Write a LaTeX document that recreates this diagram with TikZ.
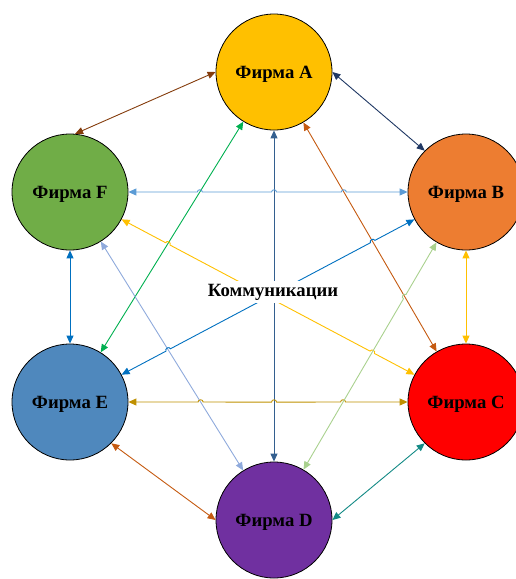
\documentclass[tikz,border=0pt]{standalone}
\usepackage{fontspec}
\setmainfont{Liberation Serif}
\usetikzlibrary{arrows.meta,calc}
\definecolor{cA}{HTML}{FFC000}
\definecolor{cB}{HTML}{ED7D31}
\definecolor{cC}{HTML}{FF0000}
\definecolor{cD}{HTML}{7030A0}
\definecolor{cE}{HTML}{4F88BD}
\definecolor{cF}{HTML}{70AD47}
\definecolor{lAF}{HTML}{843C0C}
\definecolor{lAB}{HTML}{203864}
\definecolor{lAE}{HTML}{00B050}
\definecolor{lAD}{HTML}{335F8F}
\definecolor{lAC}{HTML}{C55A11}
\definecolor{lFB}{HTML}{5B9BD5}
\definecolor{lFE}{HTML}{0070C0}
\definecolor{lFC}{HTML}{FFC000}
\definecolor{lFD}{HTML}{8FAADC}
\definecolor{lBE}{HTML}{0070C0}
\definecolor{lBD}{HTML}{A9D18E}
\definecolor{lBC}{HTML}{FFC000}
\definecolor{lEC}{HTML}{BF9000}
\definecolor{lED}{HTML}{C55A11}
\definecolor{lDC}{HTML}{138A85}
\begin{document}
\begin{tikzpicture}[x=1pt,y=-1pt,
  firm/.style={circle, draw=black, line width=0.8pt, minimum size=116pt, inner sep=0pt,
    text depth=0pt, font=\fontsize{18.7}{22}\selectfont\bfseries},
  link/.style={line width=0.9pt, {Triangle[length=8pt,width=7pt]}-{Triangle[length=8pt,width=7pt]}},
  hub/.style={fill=white, inner xsep=3pt, inner ysep=3pt, font=\fontsize{18.7}{22}\selectfont\bfseries}]
\useasboundingbox (0,0) rectangle (516,579);
\clip (0,0) rectangle (516,579);
\node[firm, fill=cA] (A) at (274,72) {Фирма A};
\node[firm, fill=cB] (B) at (466,192) {Фирма B};
\node[firm, fill=cC] (C) at (466,402) {Фирма C};
\node[firm, fill=cD] (D) at (274,520) {Фирма D};
\node[firm, fill=cE] (E) at (70,402) {Фирма E};
\node[firm, fill=cF] (F) at (70,192) {Фирма F};
% crossing points where one connector hops over another
\coordinate (p1) at (intersection of F.east--B.west and A--E);
\coordinate (p2) at (intersection of F.east--B.west and A.south--D.north);
\coordinate (p3) at (intersection of F.east--B.west and A--C);
\coordinate (q1) at (intersection of F--C and A--E);
\coordinate (q2) at (intersection of F--C and B--D);
\coordinate (r1) at (intersection of E--B and F--D);
\coordinate (r2) at (intersection of E--B and A--C);
\coordinate (s1) at (intersection of E.east--C.west and F--D);
\coordinate (s2) at (intersection of E.east--C.west and A.south--D.north);
\coordinate (s3) at (intersection of E.east--C.west and B--D);
\coordinate (t1) at (intersection of D--B and A--C);
% plain connectors
\draw[link, lAF] (A.west) -- (F.85);
\draw[link, lAB] (A.east) -- (B.north west);
\draw[link, lAE] (A) -- (E);
\draw[link, lAD] (A.south) -- (D.north);
\draw[link, lAC] (A) -- (C);
\draw[link, lFE] (F.south) -- (E.north);
\draw[link, lFD] (F) -- (D);
\draw[link, lBC] (B.south) -- (C.north);
\draw[link, lED] (E.south east) -- (D.west);
\draw[link, lDC] (D.east) -- (C.south west);
% connectors with hops
\draw[link, lFB] (F.east)
  -- ($(p1)!2.5pt!(F)$) .. controls ($(p1)!2.5pt!(F)!3pt!90:(p1)$) and ($(p1)!2.5pt!(B)!3pt!-90:(p1)$) .. ($(p1)!2.5pt!(B)$)
  -- ($(p2)!2.5pt!(F)$) .. controls ($(p2)!2.5pt!(F)!3pt!90:(p2)$) and ($(p2)!2.5pt!(B)!3pt!-90:(p2)$) .. ($(p2)!2.5pt!(B)$)
  -- ($(p3)!2.5pt!(F)$) .. controls ($(p3)!2.5pt!(F)!3pt!90:(p3)$) and ($(p3)!2.5pt!(B)!3pt!-90:(p3)$) .. ($(p3)!2.5pt!(B)$)
  -- (B.west);
\draw[link, lFC] (F)
  -- ($(q1)!2.5pt!(F)$) .. controls ($(q1)!2.5pt!(F)!3pt!90:(q1)$) and ($(q1)!2.5pt!(C)!3pt!-90:(q1)$) .. ($(q1)!2.5pt!(C)$)
  -- ($(q2)!2.5pt!(F)$) .. controls ($(q2)!2.5pt!(F)!3pt!90:(q2)$) and ($(q2)!2.5pt!(C)!3pt!-90:(q2)$) .. ($(q2)!2.5pt!(C)$)
  -- (C);
\draw[link, lBE] (E)
  -- ($(r1)!2.5pt!(E)$) .. controls ($(r1)!2.5pt!(E)!3pt!90:(r1)$) and ($(r1)!2.5pt!(B)!3pt!-90:(r1)$) .. ($(r1)!2.5pt!(B)$)
  -- ($(r2)!2.5pt!(E)$) .. controls ($(r2)!2.5pt!(E)!3pt!90:(r2)$) and ($(r2)!2.5pt!(B)!3pt!-90:(r2)$) .. ($(r2)!2.5pt!(B)$)
  -- (B);
\draw[link, lEC] (E.east)
  -- ($(s1)!2.5pt!(E)$) .. controls ($(s1)!2.5pt!(E)!3pt!90:(s1)$) and ($(s1)!2.5pt!(C)!3pt!-90:(s1)$) .. ($(s1)!2.5pt!(C)$)
  -- ($(s2)!2.5pt!(E)$) .. controls ($(s2)!2.5pt!(E)!3pt!90:(s2)$) and ($(s2)!2.5pt!(C)!3pt!-90:(s2)$) .. ($(s2)!2.5pt!(C)$)
  -- ($(s3)!2.5pt!(E)$) .. controls ($(s3)!2.5pt!(E)!3pt!90:(s3)$) and ($(s3)!2.5pt!(C)!3pt!-90:(s3)$) .. ($(s3)!2.5pt!(C)$)
  -- (C.west);
\draw[link, lBD] (D)
  -- ($(t1)!2.5pt!(D)$) .. controls ($(t1)!2.5pt!(D)!3pt!90:(t1)$) and ($(t1)!2.5pt!(B)!3pt!-90:(t1)$) .. ($(t1)!2.5pt!(B)$)
  -- (B);
\node[hub] (K) at (273,292) {Коммуникации};
\end{tikzpicture}
\end{document}
